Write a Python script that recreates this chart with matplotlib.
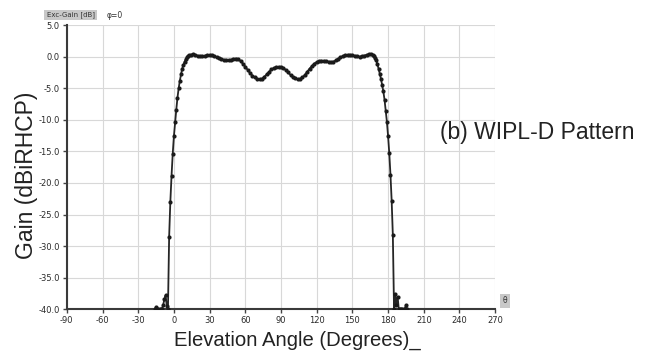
import matplotlib
matplotlib.use("Agg")
import matplotlib.pyplot as plt

# --- elevation cut, phi = 0 ---
leftFloorDeg = [-16, -15, -14, -13, -12, -11, -10, -9, -8, -7, -6, -5]
leftFloorGain = [-40.0, -39.6, -40.0, -40.0, -40.0, -40.0, -40.0, -39.3, -38.4, -37.8, -39.5, -40.0]

leftEdgeDeg = [-4, -3, -2, -1, 0, 1, 2, 3, 4, 5, 6, 7, 8, 9, 10, 11, 12, 13]
leftEdgeGain = [-28.5, -23.0, -18.9, -15.4, -12.6, -10.4, -8.4, -6.5, -5.0, -3.8, -2.8, -1.9, -1.3,
                -0.8, -0.4, -0.1, 0.1, 0.25]

lobeDeg = [14, 16, 18, 20, 22, 24, 26, 28, 30, 32, 34, 36, 38, 40, 42, 44, 46, 48, 50, 52, 54, 56,
           58, 60, 62, 64, 66, 68, 70, 72, 74, 76, 78, 80, 82, 84, 86, 88, 90, 92, 94, 96, 98, 100,
           102, 104, 106, 108, 110, 112, 114, 116, 118, 120, 122, 124, 126, 128, 130, 132, 134, 136,
           138, 140, 142, 144, 146, 148, 150, 152, 154, 156, 158, 160, 162, 164, 166]
lobeGain = [0.3, 0.35, 0.3, 0.15, 0.05, 0.05, 0.15, 0.25, 0.3, 0.25, 0.1, -0.1, -0.2, -0.35, -0.5,
            -0.6, -0.6, -0.5, -0.35, -0.3, -0.4, -0.7, -1.1, -1.6, -2.1, -2.6, -3.0, -3.3, -3.5,
            -3.55, -3.5, -3.2, -2.8, -2.4, -2.0, -1.8, -1.65, -1.6, -1.65, -1.8, -2.1, -2.5, -2.9,
            -3.2, -3.45, -3.55, -3.5, -3.3, -2.9, -2.4, -1.9, -1.5, -1.1, -0.85, -0.7, -0.65, -0.65,
            -0.7, -0.8, -0.85, -0.8, -0.6, -0.35, -0.1, 0.1, 0.25, 0.3, 0.3, 0.25, 0.15, 0.05, 0.0,
            0.05, 0.15, 0.3, 0.35, 0.35]

rightEdgeDeg = [167, 168, 169, 170, 171, 172, 173, 174, 175, 176, 177, 178, 179, 180, 181, 182, 183, 184]
rightEdgeGain = [0.3, 0.1, -0.2, -0.6, -1.2, -1.9, -2.7, -3.5, -4.5, -5.5, -6.8, -8.6, -10.3, -12.6,
                 -15.3, -18.7, -22.8, -28.3]

rightFloorDeg = [185, 186, 187, 188, 189, 190, 191, 192, 193, 194, 195, 196]
rightFloorGain = [-40.0, -37.6, -39.3, -38.0, -40.0, -40.0, -40.0, -40.0, -40.0, -40.0, -39.3, -40.0]

xTicks = [-90, -60, -30, 0, 30, 60, 90, 120, 150, 180, 210, 240, 270]
yTicks = [5.0, 0.0, -5.0, -10.0, -15.0, -20.0, -25.0, -30.0, -35.0, -40.0]

angles = leftFloorDeg + leftEdgeDeg + lobeDeg + rightEdgeDeg + rightFloorDeg
gain = leftFloorGain + leftEdgeGain + lobeGain + rightEdgeGain + rightFloorGain

narrow = ['Liberation Sans Narrow', 'DejaVu Sans']
arial = ['Liberation Sans', 'DejaVu Sans']

fig = plt.figure(figsize=(6.55, 3.58), dpi=100)
ax = fig.add_axes([0.102, 0.136, 0.654, 0.794])

ax.plot(angles, gain, color='#262626', linewidth=1.3, marker='o', markersize=3.0,
        markerfacecolor='#1a1a1a', markeredgewidth=0, zorder=3)

ax.set_xlim(-90, 270)
ax.set_ylim(-40, 5)
ax.set_xticks(xTicks)
ax.set_yticks(yTicks)
ax.set_xticklabels([str(t) for t in xTicks], fontfamily=narrow, fontsize=6, color='#2a2a2a')
ax.set_yticklabels(['%.1f' % t for t in yTicks], fontfamily=narrow, fontsize=6, color='#2a2a2a')
ax.tick_params(axis='both', length=3, width=1, color='#444444', pad=2, direction='out')

ax.grid(True, color='#d8d8d8', linewidth=0.8)
ax.set_axisbelow(True)
for side in ['top', 'right']:
    ax.spines[side].set_visible(False)
for side in ['left', 'bottom']:
    ax.spines[side].set_color('#3a3a3a')
    ax.spines[side].set_linewidth(1.5)

ax.set_xlabel('Elevation Angle (Degrees)_', fontfamily=arial, fontsize=14.6, color='#222222')
ax.set_ylabel('Gain (dBiRHCP)', fontfamily=arial, fontsize=16.5, color='#222222')
ax.xaxis.set_label_coords(0.537, -0.077)
ax.yaxis.set_label_coords(-0.068, 0.47)

fig.text(0.672, 0.631, '(b) WIPL-D Pattern', fontfamily=arial, fontsize=16.5, color='#222222',
         va='center', ha='left')

fig.text(0.071, 0.958, 'Exc-Gain [dB]', fontfamily=narrow, fontsize=5, color='#333333',
         va='center', ha='left',
         bbox=dict(boxstyle='square,pad=0.3', facecolor='#c8c8c8', edgecolor='none'))
fig.text(0.163, 0.958, 'φ=0', fontfamily=narrow, fontsize=5.5, color='#333333', va='center', ha='left')
fig.text(0.771, 0.16, 'θ', fontfamily=narrow, fontsize=5.5, color='#333333', va='center', ha='center',
         bbox=dict(boxstyle='square,pad=0.3', facecolor='#c8c8c8', edgecolor='none'))

fig.savefig('out.png', dpi=100)
